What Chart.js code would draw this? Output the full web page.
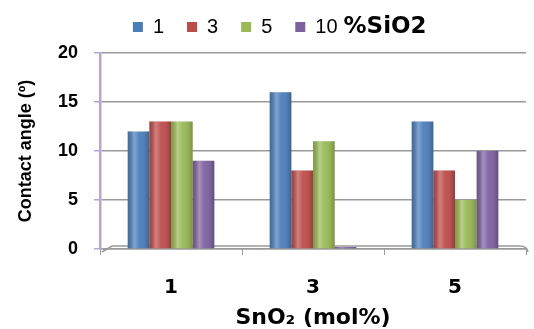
<!DOCTYPE html>
<html>
<head>
<meta charset="utf-8">
<script src="https://cdn.jsdelivr.net/npm/chart.js@4.4.1/dist/chart.umd.min.js"></script>
<style>
html,body{margin:0;padding:0;background:#fff;}
#wrap{width:534px;height:329px;position:relative;}
</style>
</head>
<body>
<div id="wrap"><canvas id="c" width="534" height="329"></canvas></div>
<script>
const categories = ['1', '3', '5'];
const seriesLabels = ['1', '3', '5', '10'];
const sio2_1 = [12, 16, 13];
const sio2_3 = [13, 8, 8];
const sio2_5 = [13, 11, 5];
const sio2_10 = [9, 0.2, 10];
const yTicks = [0, 5, 10, 15, 20];
const legendSuffix = '%SiO2';
const xTitle = 'SnO\u2082 (mol%)';
const yTitle = 'Contact angle (\u00BA)';

const colors = ['#4A7EBB', '#BE4B48', '#98B954', '#7D60A0'];
const LEG_FONT = 20;

const cylinder = {
  id: 'cylinder',
  afterDatasetsDraw(chart) {
    const ctx = chart.ctx;
    chart.data.datasets.forEach((ds, di) => {
      const meta = chart.getDatasetMeta(di);
      meta.data.forEach(el => {
        const w = el.width, x0 = el.x - w / 2;
        const top = Math.min(el.y, el.base), h = Math.abs(el.base - el.y);
        if (h <= 0) return;
        const g = ctx.createLinearGradient(x0, 0, x0 + w, 0);
        g.addColorStop(0, 'rgba(0,0,0,0.15)');
        g.addColorStop(0.3, 'rgba(255,255,255,0.3)');
        g.addColorStop(0.55, 'rgba(255,255,255,0.05)');
        g.addColorStop(1, 'rgba(0,0,0,0.22)');
        ctx.save();
        ctx.fillStyle = g;
        ctx.fillRect(x0, top, w, h);
        ctx.restore();
      });
    });
  }
};

const floorPlugin = {
  id: 'floor',
  beforeDatasetsDraw(chart) {
    const ctx = chart.ctx, a = chart.chartArea;
    ctx.save();
    ctx.strokeStyle = '#999999';
    ctx.lineWidth = 1.5;
    ctx.beginPath();
    ctx.moveTo(a.left + 2, a.bottom + 3);
    ctx.lineTo(a.left + 12, a.bottom - 3);
    ctx.lineTo(a.right - 6, a.bottom - 3);
    ctx.quadraticCurveTo(a.right + 1, a.bottom - 3, a.right + 2, a.bottom + 3);
    ctx.stroke();
    ctx.restore();
  }
};

const legendFix = {
  id: 'legendFix',
  beforeUpdate(chart) {
    const lg = chart.legend;
    if (lg && !lg._patched) {
      const f = lg.fit.bind(lg);
      lg.fit = function () { f(); this.height += 6; };
      lg._patched = true;
    }
  },
  afterDraw(chart) {
    const lg = chart.legend;
    if (!lg || !lg.legendHitBoxes || !lg.legendHitBoxes.length) return;
    const hb = lg.legendHitBoxes[lg.legendHitBoxes.length - 1];
    const ctx = chart.ctx;
    ctx.save();
    ctx.font = LEG_FONT + 'px "Liberation Sans", Arial, sans-serif';
    const w10 = ctx.measureText(seriesLabels[3]).width;
    ctx.font = 'bold 23px "DejaVu Sans", Verdana, sans-serif';
    ctx.fillStyle = '#000';
    ctx.textBaseline = 'middle';
    ctx.fillText(legendSuffix, hb.left + 10 + LEG_FONT / 2 + w10 + 6, hb.top + hb.height / 2);
    ctx.restore();
  }
};

new Chart(document.getElementById('c'), {
  type: 'bar',
  data: {
    labels: categories,
    datasets: [
      { label: seriesLabels[0], data: sio2_1, backgroundColor: colors[0] },
      { label: seriesLabels[1], data: sio2_3, backgroundColor: colors[1] },
      { label: seriesLabels[2], data: sio2_5, backgroundColor: colors[2] },
      { label: seriesLabels[3], data: sio2_10, backgroundColor: colors[3] }
    ]
  },
  options: {
    responsive: false,
    animation: false,
    devicePixelRatio: 1,
    layout: { padding: { left: 0, right: 8, top: -6, bottom: -2 } },
    datasets: { bar: { categoryPercentage: 0.61, barPercentage: 1.0, borderWidth: 0 } },
    plugins: {
      tooltip: { enabled: false },
      legend: {
        position: 'top',
        labels: {
          boxWidth: 10, boxHeight: 10, padding: 23,
          font: { family: '"Liberation Sans", Arial, sans-serif', size: LEG_FONT },
          color: '#000',
          generateLabels(chart) {
            return chart.data.datasets.map((ds, i) => ({
              text: i === 3 ? ds.label + ' '.repeat(10) : ds.label,
              fillStyle: ds.backgroundColor, strokeStyle: ds.backgroundColor,
              lineWidth: 0, datasetIndex: i, hidden: false
            }));
          }
        }
      }
    },
    scales: {
      x: {
        afterFit(s) { s.height = 82; },
        grid: { offset: true, drawOnChartArea: false, color: '#999999', tickLength: 6 },
        border: { color: '#999999', width: 1.5 },
        ticks: { color: '#000', padding: 21, font: { family: '"DejaVu Sans", Verdana, sans-serif', size: 20, weight: 'bold' } },
        title: { display: true, text: xTitle, color: '#000', padding: { top: 0, bottom: 0 },
          font: { family: '"DejaVu Sans", Verdana, sans-serif', size: 22, weight: 'bold' } }
      },
      y: {
        min: 0, max: 20,
        afterFit(s) { s.width = 100; },
        afterBuildTicks(s) { s.ticks = yTicks.map(v => ({ value: v })); },
        grid: { color: '#999999', lineWidth: 1.5, tickColor: '#b4a7d6', tickLength: 6, drawTicks: true },
        border: { color: '#b4a7d6', width: 2.5 },
        ticks: { color: '#000', padding: 16, font: { family: '"Liberation Sans", Arial, sans-serif', size: 18, weight: 'bold' } },
        title: { display: true, text: yTitle, color: '#000', padding: { top: 15, bottom: 0 },
          font: { family: '"Liberation Sans", Arial, sans-serif', size: 18, weight: 'bold' } }
      }
    }
  },
  plugins: [floorPlugin, cylinder, legendFix]
});
</script>
</body>
</html>
